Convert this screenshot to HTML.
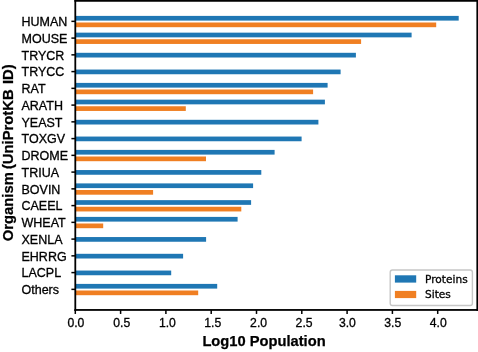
<!DOCTYPE html>
<html><head><meta charset="utf-8"><title>chart</title>
<style>
html,body{margin:0;padding:0;background:#fff;}
body{width:478px;height:352px;overflow:hidden;}
svg{display:block;}
.t{font-family:"Liberation Sans",Arial,sans-serif;font-size:12.5px;fill:#000;stroke:#000;stroke-width:0.3px;}
.x{font-size:12.2px;}
.l{font-family:"Liberation Sans",Arial,sans-serif;font-size:14.7px;font-weight:bold;fill:#000;stroke:#000;stroke-width:0.25px;}
.g{font-family:"DejaVu Sans",Verdana,sans-serif;font-size:10.6px;fill:#000;stroke:#000;stroke-width:0.3px;}
</style></head><body>
<svg width="478" height="352" viewBox="0 0 478 352">
<rect width="478" height="352" fill="#fff"/>
<rect x="75.3" y="15.90" width="383.40" height="4.7" fill="#1f77b4"/>
<rect x="75.3" y="22.50" width="360.90" height="4.7" fill="#f07f22"/>
<rect x="75.3" y="32.65" width="336.30" height="4.7" fill="#1f77b4"/>
<rect x="75.3" y="39.25" width="285.80" height="4.7" fill="#f07f22"/>
<rect x="75.3" y="52.80" width="280.60" height="4.7" fill="#1f77b4"/>
<rect x="75.3" y="69.55" width="265.30" height="4.7" fill="#1f77b4"/>
<rect x="75.3" y="82.90" width="252.30" height="4.7" fill="#1f77b4"/>
<rect x="75.3" y="89.50" width="237.80" height="4.7" fill="#f07f22"/>
<rect x="75.3" y="99.65" width="249.60" height="4.7" fill="#1f77b4"/>
<rect x="75.3" y="106.25" width="110.50" height="4.7" fill="#f07f22"/>
<rect x="75.3" y="119.80" width="243.10" height="4.7" fill="#1f77b4"/>
<rect x="75.3" y="136.55" width="226.30" height="4.7" fill="#1f77b4"/>
<rect x="75.3" y="149.90" width="199.30" height="4.7" fill="#1f77b4"/>
<rect x="75.3" y="156.50" width="130.70" height="4.7" fill="#f07f22"/>
<rect x="75.3" y="170.05" width="186.00" height="4.7" fill="#1f77b4"/>
<rect x="75.3" y="183.40" width="177.80" height="4.7" fill="#1f77b4"/>
<rect x="75.3" y="190.00" width="77.80" height="4.7" fill="#f07f22"/>
<rect x="75.3" y="200.15" width="175.80" height="4.7" fill="#1f77b4"/>
<rect x="75.3" y="206.75" width="166.00" height="4.7" fill="#f07f22"/>
<rect x="75.3" y="216.90" width="162.30" height="4.7" fill="#1f77b4"/>
<rect x="75.3" y="223.50" width="27.90" height="4.7" fill="#f07f22"/>
<rect x="75.3" y="237.05" width="130.80" height="4.7" fill="#1f77b4"/>
<rect x="75.3" y="253.80" width="107.80" height="4.7" fill="#1f77b4"/>
<rect x="75.3" y="270.55" width="95.90" height="4.7" fill="#1f77b4"/>
<rect x="75.3" y="283.90" width="141.90" height="4.7" fill="#1f77b4"/>
<rect x="75.3" y="290.50" width="122.90" height="4.7" fill="#f07f22"/>
<line x1="71.39999999999999" x2="75.3" y1="21.35" y2="21.35" stroke="#000" stroke-width="1.5"/>
<text x="21.5" y="26.00" class="t">HUMAN</text>
<line x1="71.39999999999999" x2="75.3" y1="38.10" y2="38.10" stroke="#000" stroke-width="1.5"/>
<text x="21.5" y="42.75" class="t">MOUSE</text>
<line x1="71.39999999999999" x2="75.3" y1="54.85" y2="54.85" stroke="#000" stroke-width="1.5"/>
<text x="21.5" y="59.50" class="t">TRYCR</text>
<line x1="71.39999999999999" x2="75.3" y1="71.60" y2="71.60" stroke="#000" stroke-width="1.5"/>
<text x="21.5" y="76.25" class="t">TRYCC</text>
<line x1="71.39999999999999" x2="75.3" y1="88.35" y2="88.35" stroke="#000" stroke-width="1.5"/>
<text x="21.5" y="93.00" class="t">RAT</text>
<line x1="71.39999999999999" x2="75.3" y1="105.10" y2="105.10" stroke="#000" stroke-width="1.5"/>
<text x="21.5" y="109.75" class="t">ARATH</text>
<line x1="71.39999999999999" x2="75.3" y1="121.85" y2="121.85" stroke="#000" stroke-width="1.5"/>
<text x="21.5" y="126.50" class="t">YEAST</text>
<line x1="71.39999999999999" x2="75.3" y1="138.60" y2="138.60" stroke="#000" stroke-width="1.5"/>
<text x="21.5" y="143.25" class="t">TOXGV</text>
<line x1="71.39999999999999" x2="75.3" y1="155.35" y2="155.35" stroke="#000" stroke-width="1.5"/>
<text x="21.5" y="160.00" class="t">DROME</text>
<line x1="71.39999999999999" x2="75.3" y1="172.10" y2="172.10" stroke="#000" stroke-width="1.5"/>
<text x="21.5" y="176.75" class="t">TRIUA</text>
<line x1="71.39999999999999" x2="75.3" y1="188.85" y2="188.85" stroke="#000" stroke-width="1.5"/>
<text x="21.5" y="193.50" class="t">BOVIN</text>
<line x1="71.39999999999999" x2="75.3" y1="205.60" y2="205.60" stroke="#000" stroke-width="1.5"/>
<text x="21.5" y="210.25" class="t">CAEEL</text>
<line x1="71.39999999999999" x2="75.3" y1="222.35" y2="222.35" stroke="#000" stroke-width="1.5"/>
<text x="21.5" y="227.00" class="t">WHEAT</text>
<line x1="71.39999999999999" x2="75.3" y1="239.10" y2="239.10" stroke="#000" stroke-width="1.5"/>
<text x="21.5" y="243.75" class="t">XENLA</text>
<line x1="71.39999999999999" x2="75.3" y1="255.85" y2="255.85" stroke="#000" stroke-width="1.5"/>
<text x="21.5" y="260.50" class="t">EHRRG</text>
<line x1="71.39999999999999" x2="75.3" y1="272.60" y2="272.60" stroke="#000" stroke-width="1.5"/>
<text x="21.5" y="277.25" class="t">LACPL</text>
<line x1="71.39999999999999" x2="75.3" y1="289.35" y2="289.35" stroke="#000" stroke-width="1.5"/>
<text x="21.5" y="294.00" class="t">Others</text>
<line x1="75.30" x2="75.30" y1="309.95" y2="313.95" stroke="#000" stroke-width="1.5"/>
<text x="75.90" y="327.4" class="t x" text-anchor="middle">0.0</text>
<line x1="120.60" x2="120.60" y1="309.95" y2="313.95" stroke="#000" stroke-width="1.5"/>
<text x="121.70" y="327.4" class="t x" text-anchor="middle">0.5</text>
<line x1="165.90" x2="165.90" y1="309.95" y2="313.95" stroke="#000" stroke-width="1.5"/>
<text x="167.40" y="327.4" class="t x" text-anchor="middle">1.0</text>
<line x1="211.20" x2="211.20" y1="309.95" y2="313.95" stroke="#000" stroke-width="1.5"/>
<text x="212.70" y="327.4" class="t x" text-anchor="middle">1.5</text>
<line x1="256.50" x2="256.50" y1="309.95" y2="313.95" stroke="#000" stroke-width="1.5"/>
<text x="258.60" y="327.4" class="t x" text-anchor="middle">2.0</text>
<line x1="301.80" x2="301.80" y1="309.95" y2="313.95" stroke="#000" stroke-width="1.5"/>
<text x="304.10" y="327.4" class="t x" text-anchor="middle">2.5</text>
<line x1="347.10" x2="347.10" y1="309.95" y2="313.95" stroke="#000" stroke-width="1.5"/>
<text x="347.40" y="327.4" class="t x" text-anchor="middle">3.0</text>
<line x1="392.40" x2="392.40" y1="309.95" y2="313.95" stroke="#000" stroke-width="1.5"/>
<text x="392.80" y="327.4" class="t x" text-anchor="middle">3.5</text>
<line x1="437.70" x2="437.70" y1="309.95" y2="313.95" stroke="#000" stroke-width="1.5"/>
<text x="438.30" y="327.4" class="t x" text-anchor="middle">4.0</text>
<rect x="74.40" y="0" width="1.8" height="310.85" fill="#000"/>
<rect x="74.40" y="309.05" width="403.60" height="1.8" fill="#000"/>
<rect x="74.40" y="0" width="403.60" height="1.75" fill="#000"/>
<rect x="476.4" y="0" width="1.6" height="310.85" fill="#000"/>
<text x="264" y="345.8" class="l" text-anchor="middle">Log10 Population</text>
<text transform="translate(13.3,152.6) rotate(-90)" class="l" style="font-size:14.8px"><tspan x="-88.7">Organism</tspan> <tspan x="-16.5">(UniProtKB</tspan> <tspan x="68.6">ID)</tspan></text>
<rect x="390.2" y="270" width="82.2" height="35.5" rx="2.2" fill="#fff" fill-opacity="0.8" stroke="#c6c6c6" stroke-width="1.4"/>
<rect x="394.9" y="275.3" width="21.3" height="7.3" fill="#1f77b4"/>
<rect x="394.9" y="290.9" width="21.3" height="7.2" fill="#f07f22"/>
<text x="425.0" y="282.9" class="g">Proteins</text>
<text x="425.0" y="298.4" class="g">Sites</text>
</svg>
</body></html>
